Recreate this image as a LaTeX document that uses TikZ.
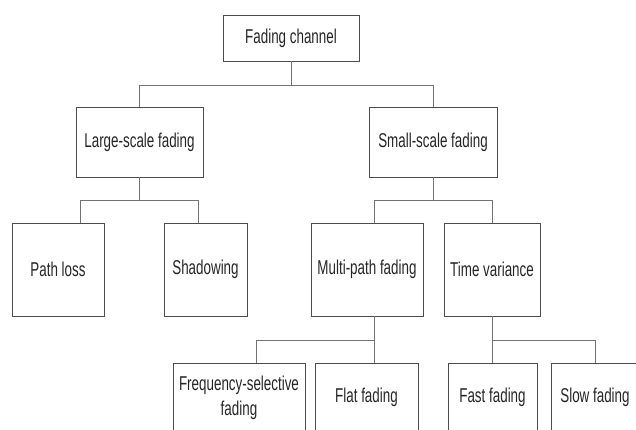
\documentclass[tikz,border=0pt]{standalone}
\usepackage{fontspec}
\setmainfont{Liberation Sans}[FakeStretch=0.67]
\begin{document}
\begin{tikzpicture}[x=1pt,y=-1pt,
  box/.style={draw=black!70,line width=0.9pt,rectangle,inner sep=0pt,
    align=center,text=black!85,font=\fontsize{20}{25}\selectfont},
  conn/.style={draw=black!55,line width=0.9pt}]
\useasboundingbox (0,0) rectangle (636,430);
\clip (0,0) rectangle (636,430);
\fill[white] (0,0) rectangle (636,430);
% level 0
\node[box,minimum width=136pt,minimum height=46pt] (fc) at (291,38) {Fading channel};
% level 1
\node[box,minimum width=127pt,minimum height=70pt] (lsf) at (139.5,142) {Large-scale fading};
\node[box,minimum width=128pt,minimum height=70pt] (ssf) at (433,142) {Small-scale fading};
% level 2
\node[box,minimum width=92pt,minimum height=93pt] (pl) at (58,269.5) {Path loss};
\node[box,minimum width=83pt,minimum height=93pt] (sh) at (205.5,269.5) {Shadowing};
\node[box,minimum width=112pt,minimum height=93pt] (mpf) at (367,269.5) {Multi-path fading};
\node[box,minimum width=96pt,minimum height=93pt] (tv) at (492,269.5) {Time variance};
% level 3
\node[box,minimum width=132pt,minimum height=69pt] (fsf) at (239,397.5) {Frequency-selective\\fading};
\node[box,minimum width=103pt,minimum height=69pt] (flat) at (366.5,397.5) {Flat fading};
\node[box,minimum width=89pt,minimum height=69pt] (fast) at (492.5,397.5) {Fast fading};
\node[box,minimum width=88pt,minimum height=69pt] (slow) at (595,397.5) {Slow fading};
% bar coordinates
\coordinate (b1) at (0,85);
\coordinate (b2) at (0,200);
\coordinate (b3) at (0,340);
\coordinate (lsfS) at ([xshift=-0.5pt]lsf.south);
\coordinate (plN) at ([xshift=22pt]pl.north);
\coordinate (shN) at ([xshift=-7.5pt]sh.north);
\coordinate (mpfN) at ([xshift=7pt]mpf.north);
\coordinate (mpfS) at ([xshift=7pt]mpf.south);
\coordinate (fsfN) at ([xshift=17pt]fsf.north);
\coordinate (flatN) at ([xshift=7.5pt]flat.north);
% connectors level 0-1
\draw[conn] (fc.south) -- (fc.south |- b1);
\draw[conn] (lsf.north) |- (fc.south |- b1);
\draw[conn] (ssf.north) |- (fc.south |- b1);
% level 1-2 left
\draw[conn] (lsfS) -- (lsfS |- b2);
\draw[conn] (plN) |- (lsfS |- b2);
\draw[conn] (shN) |- (lsfS |- b2);
% level 1-2 right
\draw[conn] (ssf.south) -- (ssf.south |- b2);
\draw[conn] (mpfN) |- (ssf.south |- b2);
\draw[conn] (tv.north) |- (ssf.south |- b2);
% level 2-3 left
\draw[conn] (mpfS) -- (mpfS |- b3);
\draw[conn] (fsfN) |- (mpfS |- b3);
\draw[conn] (flatN) |- (mpfS |- b3);
% level 2-3 right
\draw[conn] (tv.south) -- (tv.south |- b3);
\draw[conn] (fast.north) |- (tv.south |- b3);
\draw[conn] (slow.north) |- (tv.south |- b3);
\end{tikzpicture}
\end{document}
